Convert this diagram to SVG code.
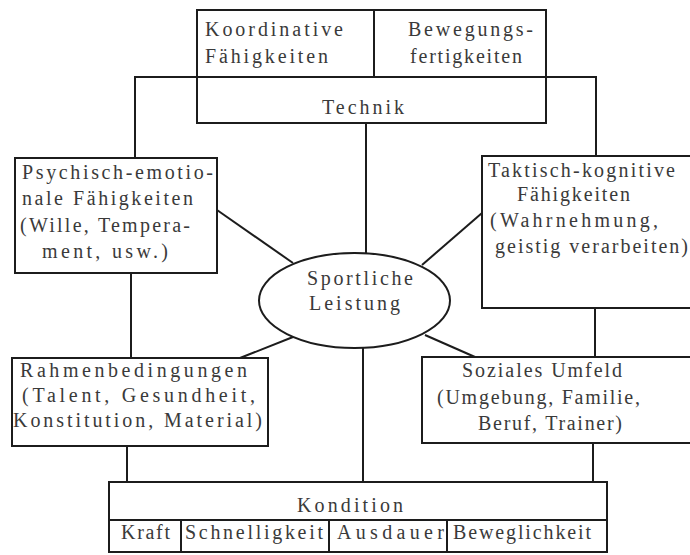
<svg xmlns="http://www.w3.org/2000/svg" width="690" height="555" viewBox="0 0 690 555">
<style>
.bx{fill:#fff;stroke:#1c1c1c;stroke-width:2}
.ln{fill:none;stroke:#1c1c1c;stroke-width:2}
.t{font-family:"Liberation Serif","Times New Roman",serif;font-size:20px;fill:#3a3a3a}
</style>
<rect width="690" height="555" fill="#fff"/>
<g id="connectors" class="ln">
<polyline points="135,158 135,77 596,77 596,156"/>
<line x1="366" y1="123" x2="366" y2="254"/>
<line x1="131" y1="273" x2="131" y2="358"/>
<line x1="127" y1="446" x2="127" y2="482"/>
<line x1="595" y1="308" x2="595" y2="357"/>
<line x1="593" y1="443" x2="593" y2="482"/>
<line x1="363" y1="347" x2="363" y2="482"/>
<line x1="217" y1="210" x2="293" y2="263"/>
<line x1="482" y1="213" x2="422" y2="265"/>
<line x1="293" y1="337" x2="240" y2="358"/>
<line x1="425" y1="335" x2="475" y2="357"/>
</g>
<g id="technik">
<rect class="bx" x="197" y="10" width="349" height="113"/>
<line class="ln" x1="197" y1="77" x2="546" y2="77"/>
<line class="ln" x1="374" y1="10" x2="374" y2="77"/>
<text class="t" x="205" y="36" textLength="138" lengthAdjust="spacing">Koordinative</text>
<text class="t" x="205" y="63" textLength="123" lengthAdjust="spacing">Fähigkeiten</text>
<text class="t" x="408" y="36" textLength="125" lengthAdjust="spacing">Bewegungs-</text>
<text class="t" x="410" y="63" textLength="112" lengthAdjust="spacing">fertigkeiten</text>
<text class="t" x="322" y="114" textLength="82" lengthAdjust="spacing">Technik</text>
</g>
<g id="psychisch">
<rect class="bx" x="15" y="158" width="202" height="115"/>
<text class="t" x="22" y="179" textLength="191" lengthAdjust="spacing">Psychisch-emotio-</text>
<text class="t" x="22" y="205" textLength="171" lengthAdjust="spacing">nale Fähigkeiten</text>
<text class="t" x="20" y="232" textLength="170" lengthAdjust="spacing">(Wille, Tempera-</text>
<text class="t" x="42" y="258" textLength="126" lengthAdjust="spacing">ment, usw.)</text>
</g>
<g id="taktisch">
<rect class="bx" x="482" y="156" width="212" height="152"/>
<text class="t" x="488" y="177" textLength="187" lengthAdjust="spacing">Taktisch-kognitive</text>
<text class="t" x="517" y="201" textLength="113" lengthAdjust="spacing">Fähigkeiten</text>
<text class="t" x="490" y="227" textLength="168" lengthAdjust="spacing">(Wahrnehmung,</text>
<text class="t" x="495" y="253" textLength="193" lengthAdjust="spacing">geistig verarbeiten)</text>
</g>
<g id="leistung">
<ellipse class="bx" cx="354.5" cy="300.5" rx="95.5" ry="47.5"/>
<text class="t" x="307" y="285" textLength="106" lengthAdjust="spacing">Sportliche</text>
<text class="t" x="309" y="310" textLength="91" lengthAdjust="spacing">Leistung</text>
</g>
<g id="rahmen">
<rect class="bx" x="12" y="358" width="256" height="88"/>
<text class="t" x="20" y="377" textLength="227" lengthAdjust="spacing">Rahmenbedingungen</text>
<text class="t" x="22" y="402" textLength="233" lengthAdjust="spacing">(Talent, Gesundheit,</text>
<text class="t" x="13" y="427" textLength="249" lengthAdjust="spacing">Konstitution, Material)</text>
</g>
<g id="sozial">
<rect class="bx" x="422" y="357" width="272" height="86"/>
<text class="t" x="462" y="377" textLength="160" lengthAdjust="spacing">Soziales Umfeld</text>
<text class="t" x="437" y="404" textLength="203" lengthAdjust="spacing">(Umgebung, Familie,</text>
<text class="t" x="478" y="430" textLength="144" lengthAdjust="spacing">Beruf, Trainer)</text>
</g>
<g id="kondition">
<rect class="bx" x="109" y="482" width="498" height="70"/>
<line class="ln" x1="109" y1="520" x2="607" y2="520" stroke-width="1.6"/>
<line class="ln" x1="181" y1="520" x2="181" y2="552"/>
<line class="ln" x1="329" y1="520" x2="329" y2="552"/>
<line class="ln" x1="447" y1="520" x2="447" y2="552"/>
<text class="t" x="297" y="512" textLength="106" lengthAdjust="spacing">Kondition</text>
<text class="t" x="121" y="539" textLength="49" lengthAdjust="spacing">Kraft</text>
<text class="t" x="185" y="539" textLength="138" lengthAdjust="spacing">Schnelligkeit</text>
<text class="t" x="337" y="539" textLength="107" lengthAdjust="spacing">Ausdauer</text>
<text class="t" x="453" y="539" textLength="138" lengthAdjust="spacing">Beweglichkeit</text>
</g>
</svg>
